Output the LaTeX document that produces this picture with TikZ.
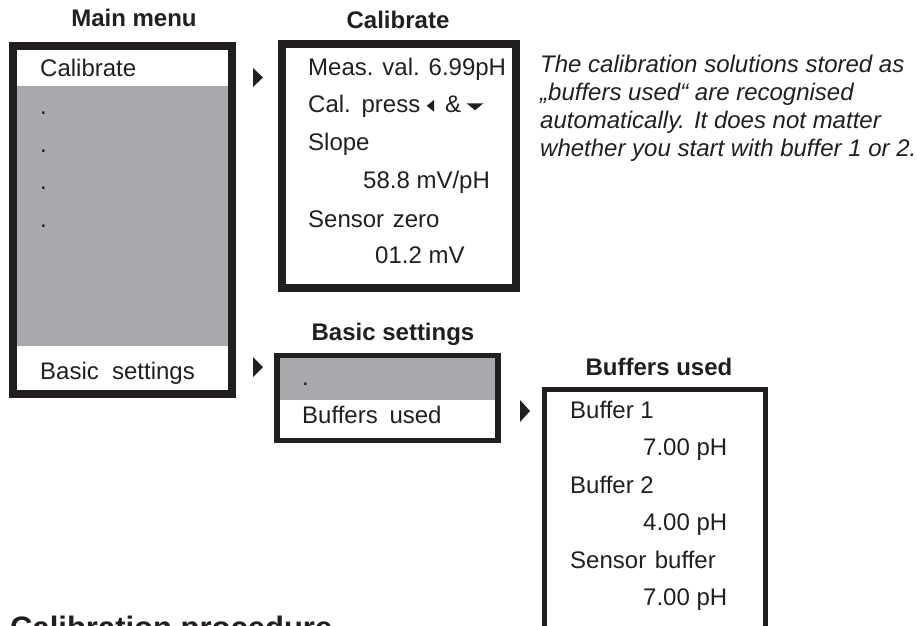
\documentclass[tikz,border=0pt]{standalone}
\usepackage{fontspec}
\setmainfont{Liberation Sans}
\definecolor{ink}{HTML}{231F20}
\definecolor{menugray}{HTML}{A7A9AC}
\begin{document}
\begin{tikzpicture}[x=1pt,y=-1pt,
  txt/.style={anchor=base west, inner sep=0pt, text=ink, font=\fontsize{24}{28}\selectfont},
  ttl/.style={anchor=base, inner sep=0pt, text=ink, font=\fontsize{24}{28}\selectfont\bfseries},
  note/.style={anchor=base west, inner sep=0pt, text=ink, font=\fontsize{24}{28}\selectfont\itshape},
  boxframe/.style={draw=ink, line width=#1},
  grayband/.style={fill=menugray},
  marker/.style={fill=ink}]
\clip (0,0) rectangle (917,625);
\fill[white] (0,0) rectangle (917,625);

% ---------- Main menu ----------
\node[ttl] (tmain) at (134,26) {Main menu};
\fill[grayband] (17,86) rectangle (228,346);
\draw[boxframe=8] (13,46) rectangle (232,394);
\node[txt] (mcal) at (40,76) {Calibrate};
\node[txt] (md1) at (40,114) {.};
\node[txt] (md2) at (40,152) {.};
\node[txt] (md3) at (40,189) {.};
\node[txt] (md4) at (40,227) {.};
\node[txt] (mbas) at (40,379) {Basic\hspace{0.55em}settings};

% ---------- Calibrate ----------
\node[ttl] (tcal) at (398,28) {Calibrate};
\draw[boxframe=8] (281.8,44) rectangle (516,287.7);
\node[txt] (c1) at (308,75) {Meas. val. 6.99pH};
\node[txt] (c2) at (308,112) {Cal.\hspace{0.45em}press};
\fill[marker] (434,100) -- (434,111.7) -- (426.7,105.8) -- cycle;
\node[txt] (c2b) at (445,112) {\&};
\fill[marker] (466.7,103.3) -- (483.3,103.3) -- (475,110.3) -- cycle;
\node[txt] (c3) at (308,150) {Slope};
\node[txt] (c4) at (363,188) {58.8 mV/pH};
\node[txt] (c5) at (308,227) {Sensor\hspace{0.36em}zero};
\node[txt] (c6) at (375,263) {01.2 mV};

% ---------- Note ----------
\node[note] (n1) at (540,72) {The calibration solutions stored as};
\node[note] (n2) at (540,100) {„buffers used“ are recognised};
\node[note] (n3) at (540,128) {automatically. It does not matter};
\node[note] (n4) at (540,156) {whether you start with buffer 1 or 2.};

% ---------- Basic settings ----------
\node[ttl] (tbas) at (393,340) {Basic settings};
\fill[grayband] (279.5,358.2) rectangle (495.2,400);
\draw[boxframe=5.5] (276.8,355.5) rectangle (498,440.5);
\node[txt] (b1) at (302,385) {.};
\node[txt] (b2) at (302,423) {Buffers\hspace{0.49em}used};

% ---------- Buffers used ----------
\node[ttl] (tbuf) at (659,375) {Buffers used};
\draw[boxframe=5.3] (544.3,389.2) rectangle (765.7,660);
\node[txt] (u1) at (570,418) {Buffer 1};
\node[txt] (u2) at (643,455) {7.00 pH};
\node[txt] (u3) at (570,493) {Buffer 2};
\node[txt] (u4) at (643,530) {4.00 pH};
\node[txt] (u5) at (570,568) {Sensor\hspace{0.36em}buffer};
\node[txt] (u6) at (643,605) {7.00 pH};

% ---------- Arrows ----------
\fill[marker] (253,68) -- (253,87) -- (263,77.5) -- cycle;
\fill[marker] (253,357) -- (253,377) -- (263,367) -- cycle;
\fill[marker] (520,400) -- (520,422) -- (530,411) -- cycle;

% ---------- Heading ----------
\node[anchor=base west, inner sep=0pt, text=ink, font=\fontsize{31}{36}\selectfont\bfseries] (head) at (10,638) {Calibration procedure};
\end{tikzpicture}
\end{document}
